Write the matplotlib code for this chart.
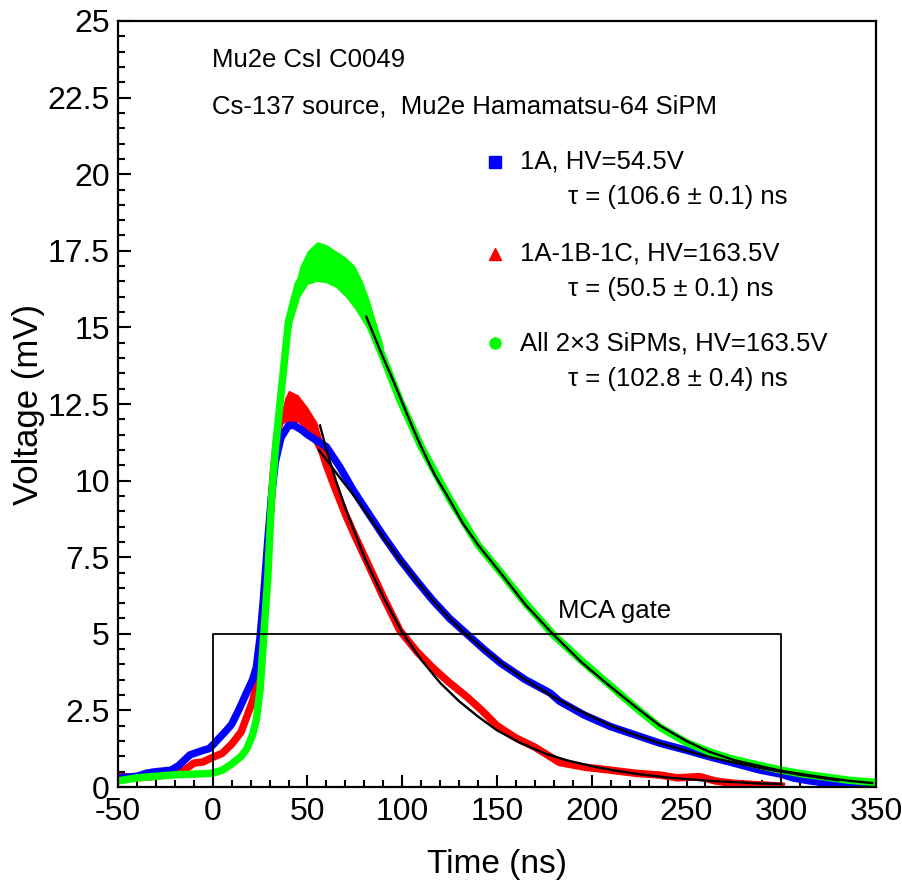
import numpy as np
import matplotlib
matplotlib.use('Agg')
import matplotlib.pyplot as plt
from matplotlib.ticker import MultipleLocator

plt.rcParams['font.family'] = ['Liberation Sans', 'DejaVu Sans']
plt.rcParams['axes.unicode_minus'] = False

# waveforms (time in ns, voltage in mV)
blue_t = [-50, -40, -35, -30, -22, -18, -12, -5, -2, 0, 5, 7.4, 10, 14, 18, 21, 23, 25, 26.7,
          29, 31, 33, 36, 40, 43, 47, 50, 55, 60, 67, 74, 81, 90, 99, 108, 116, 125, 134,
          143, 152, 165, 178, 183, 196, 210, 223, 236, 250, 262, 275, 289, 300, 306, 315,
          324, 335, 348]
blue_v = [0.3, 0.35, 0.45, 0.5, 0.55, 0.7, 1.05, 1.2, 1.25, 1.37, 1.7, 1.86, 2.05, 2.55, 3.1,
          3.5, 3.9, 4.9, 6.1, 8.0, 9.5, 10.6, 11.4, 11.8, 11.8, 11.65, 11.5, 11.3, 11.1,
          10.45, 9.7, 9.04, 8.2, 7.41, 6.7, 6.1, 5.5, 5.0, 4.5, 4.04, 3.5, 3.07, 2.8, 2.35,
          1.97, 1.7, 1.43, 1.2, 0.99, 0.78, 0.55, 0.42, 0.3, 0.2, 0.13, 0.07, 0.03]

red_t = [-50, -40, -30, -20, -15, -10, -5, 0, 5, 10, 15, 18, 21, 23, 25, 26.7, 28, 30, 32, 34,
         36, 40, 45, 50, 55, 60, 63.6, 70, 75, 81, 90, 98.8, 108, 116, 125, 134, 142, 150,
         160, 170, 183, 196, 210, 223, 236, 245, 257, 265, 275, 289, 300]
red_v = [0.35, 0.3, 0.35, 0.45, 0.55, 0.78, 0.82, 0.97, 1.1, 1.4, 1.8, 2.3, 2.8, 3.3, 4.1, 5.2,
         6.5, 8.5, 10.3, 11.5, 12.1, 12.4, 12.35, 12.0, 11.45, 10.5, 9.9, 8.9, 8.2, 7.4, 6.2,
         5.1, 4.4, 3.9, 3.4, 2.95, 2.5, 2.0, 1.6, 1.3, 0.8, 0.65, 0.55, 0.45, 0.39, 0.3, 0.34,
         0.2, 0.12, 0.07, 0.03]

green_t = [-50, -40, -30, -20, -10, 0, 5, 10, 15, 18, 21, 23, 25, 27, 29, 31, 33, 36.3, 40, 45,
           50, 55, 60, 65, 70, 75, 80, 90, 99, 110, 125, 140, 152, 165, 180, 195, 210, 223,
           236, 250, 262, 275, 289, 300, 312, 324, 336, 350]
green_v = [0.2, 0.3, 0.35, 0.4, 0.42, 0.45, 0.55, 0.75, 1.0, 1.25, 1.7, 2.2, 3.2, 5.0, 6.8, 9.4,
           11.0, 13.0, 15.2, 16.4, 16.9, 17.1, 17.05, 16.9, 16.65, 16.3, 15.5, 14.0, 12.6, 11.1,
           9.4, 7.9, 7.0, 6.0, 4.95, 4.1, 3.3, 2.6, 1.95, 1.45, 1.15, 0.9, 0.7, 0.55, 0.42,
           0.32, 0.22, 0.15]

# noisy spread around the peaks
green_band_t = [38, 42, 46, 50, 55, 60, 65, 70, 75, 79, 82, 86, 90]
green_band_hi = [14.8, 16.0, 17.0, 17.5, 17.8, 17.7, 17.5, 17.3, 17.0, 16.5, 16.0, 15.2, 14.4]
green_band_lo = [14.0, 15.2, 16.0, 16.4, 16.5, 16.45, 16.3, 16.0, 15.6, 15.2, 14.9, 14.3, 13.7]
red_band_t = [36, 38, 40, 45, 50, 55, 58]
red_band_hi = [12.2, 12.7, 12.95, 12.8, 12.4, 11.9, 11.2]
red_band_lo = [11.8, 11.9, 11.9, 11.9, 11.6, 11.0, 10.7]

# exponential fits (black curves)
blue_fit_t = [56, 61, 67, 74, 81, 90, 99, 108, 116, 125, 134, 143, 152, 165, 178, 190, 200, 210,
              223, 236, 250, 262, 275, 289, 300, 312, 324, 330]
blue_fit_v = [11.0, 10.6, 10.1, 9.55, 8.95, 8.15, 7.4, 6.7, 6.1, 5.5, 4.96, 4.5, 4.05, 3.5,
              3.0, 2.6, 2.3, 2.0, 1.7, 1.43, 1.18, 0.98, 0.8, 0.62, 0.5, 0.38, 0.27, 0.22]
red_fit_t = [56.6, 60, 65, 70, 75, 80, 85, 90, 100, 110, 120, 130, 140, 150, 162, 175, 187, 200,
             212, 225, 240, 250, 262, 275, 287, 300]
red_fit_v = [11.8, 11.0, 10.0, 9.1, 8.3, 7.5, 6.85, 6.2, 5.05, 4.15, 3.4, 2.8, 2.3, 1.85, 1.45,
             1.1, 0.87, 0.68, 0.54, 0.42, 0.31, 0.26, 0.2, 0.16, 0.12, 0.1]
green_fit_t = [81, 86, 90, 95, 99, 105, 110, 117, 125, 132, 140, 152, 165, 180, 195, 210, 223,
               236, 250, 262, 275, 289, 300, 312, 324, 336, 348]
green_fit_v = [15.35, 14.6, 14.0, 13.3, 12.7, 11.8, 11.1, 10.2, 9.37, 8.6, 7.9, 6.98, 5.95, 4.96,
               4.05, 3.27, 2.62, 2.0, 1.5, 1.15, 0.88, 0.68, 0.53, 0.41, 0.3, 0.2, 0.13]

gate_t = [0, 0, 300, 300]
gate_v = [0, 5, 5, 0]

legend_labels = ['1A, HV=54.5V', '1A-1B-1C, HV=163.5V', 'All 2\u00d73 SiPMs, HV=163.5V']
tau_labels = ['\u03c4 = (106.6 \u00b1 0.1) ns', '\u03c4 = (50.5 \u00b1 0.1) ns',
              '\u03c4 = (102.8 \u00b1 0.4) ns']

BLUE = '#0000ff'
RED = '#ff0000'
GREEN = '#00ff00'

fig = plt.figure(figsize=(9.02, 8.85), dpi=100)
ax = fig.add_axes([0.1308, 0.1107, 0.8404, 0.8656])

lw = 5.4
ax.fill_between(red_band_t, red_band_lo, red_band_hi, color=RED, lw=0)
ax.plot(red_t, red_v, color=RED, lw=lw, solid_joinstyle='round')
ax.plot(blue_t, blue_v, color=BLUE, lw=lw, solid_joinstyle='round')
ax.fill_between(green_band_t, green_band_lo, green_band_hi, color=GREEN, lw=0)
ax.plot(green_t, green_v, color=GREEN, lw=lw, solid_joinstyle='round')

for ft, fv in [(blue_fit_t, blue_fit_v), (red_fit_t, red_fit_v), (green_fit_t, green_fit_v)]:
    ax.plot(ft, fv, color='black', lw=1.7)

ax.plot(gate_t, gate_v, color='black', lw=1.3)
ax.text(212, 5.35, 'MCA gate', fontsize=18.5, ha='center', va='bottom')

ax.set_xlim(-50, 350)
ax.set_ylim(0, 25)
ax.xaxis.set_major_locator(MultipleLocator(50))
ax.xaxis.set_minor_locator(MultipleLocator(10))
ax.yaxis.set_minor_locator(MultipleLocator(0.5))
ax.set_yticks([0, 2.5, 5, 7.5, 10, 12.5, 15, 17.5, 20, 22.5, 25])
ax.set_yticklabels(['0', '2.5', '5', '7.5', '10', '12.5', '15', '17.5', '20', '22.5', '25'])
ax.tick_params(which='both', direction='in', top=False, right=False, width=1.5,
               labelsize=23)
ax.tick_params(which='major', length=9, pad=6)
ax.tick_params(which='minor', length=5)
ax.tick_params(axis='x', pad=7)
for s in ax.spines.values():
    s.set_linewidth(1.6)

ax.set_xlabel('Time (ns)', fontsize=24, labelpad=16)
ax.set_ylabel('Voltage (mV)', fontsize=25, labelpad=2)

ax.text(0.1235, 0.949, 'Mu2e CsI C0049', transform=ax.transAxes, fontsize=18.5, va='center')
ax.text(0.1235, 0.889, 'Cs-137 source,  Mu2e Hamamatsu-64 SiPM', transform=ax.transAxes,
        fontsize=18.5, va='center')

markers = ['s', '^', 'o']
colors = [BLUE, RED, GREEN]
row_y = [0.816, 0.696, 0.579]
for m, c, lab, tau, yy in zip(markers, colors, legend_labels, tau_labels, row_y):
    ax.plot([0.497], [yy], marker=m, color=c, ms=8, transform=ax.transAxes, ls='none')
    ax.text(0.530, yy, lab, transform=ax.transAxes, fontsize=18.5, va='center')
    ax.text(0.594, yy - 0.046, tau, transform=ax.transAxes, fontsize=18.5, va='center')

fig.savefig('out.png', dpi=100)
